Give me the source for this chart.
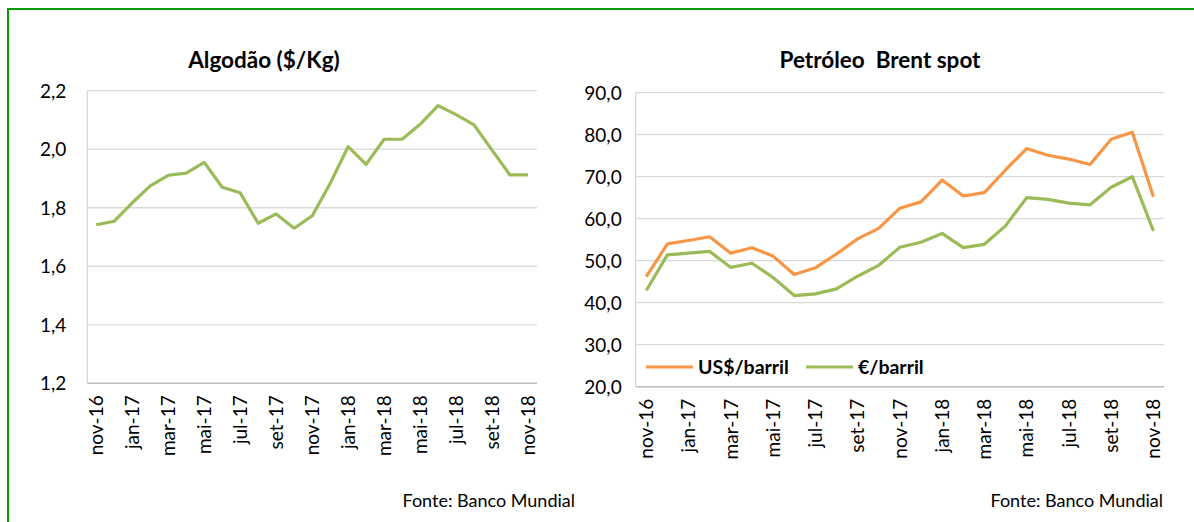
<!DOCTYPE html>
<html>
<head>
<meta charset="utf-8">
<script src="https://cdn.jsdelivr.net/npm/d3@7"></script>
<style>
  body { margin: 0; background: #fff; }
  svg { display: block; font-family: Lato, "Open Sans", sans-serif; }
  .grid line { stroke: #d9d9d9; stroke-width: 1.3; }
  .tick-label { font-size: 19px; fill: #000; }
</style>
</head>
<body>
<div id="main-content"></div>
<script>
// Months shown on both charts
const months = [
  "nov-16", "dez-16", "jan-17", "fev-17", "mar-17", "abr-17", "mai-17",
  "jun-17", "jul-17", "ago-17", "set-17", "out-17", "nov-17", "dez-17",
  "jan-18", "fev-18", "mar-18", "abr-18", "mai-18", "jun-18", "jul-18",
  "ago-18", "set-18", "out-18", "nov-18"
];
// only every other month gets a label
const monthLabels = months.filter((m, i) => i % 2 === 0);

// Cotton price ($/Kg)
const cotton = [
  1.742, 1.754, 1.817, 1.875, 1.911, 1.918, 1.955, 1.870, 1.851, 1.747,
  1.779, 1.730, 1.772, 1.883, 2.009, 1.948, 2.034, 2.034, 2.085, 2.149,
  2.118, 2.083, 1.997, 1.912, 1.912
];

// Brent spot, in dollars and euros per barrel
const brentUsd = [
  46.2, 54.0, 54.8, 55.7, 51.8, 53.1, 51.1, 46.7, 48.3, 51.6, 55.2, 57.7,
  62.5, 64.0, 69.2, 65.4, 66.2, 71.6, 76.7, 75.1, 74.2, 72.9, 78.9, 80.6, 65.2
];
const brentEur = [
  42.9, 51.4, 51.8, 52.2, 48.4, 49.4, 46.0, 41.7, 42.1, 43.3, 46.3, 48.9,
  53.2, 54.4, 56.5, 53.1, 53.9, 58.3, 65.0, 64.6, 63.7, 63.3, 67.5, 70.0, 57.1
];

const cottonTicks = [1.2, 1.4, 1.6, 1.8, 2.0, 2.2];
const brentTicks = [20, 30, 40, 50, 60, 70, 80, 90];

const legendItems = ["US$/barril", "€/barril"];

const orange = "#f79646";
const green = "#9bbb59";

const width = 1194;
const height = 522;

const svg = d3
  .select("#main-content")
  .append("svg")
  .attr("width", width)
  .attr("height", height);

// green frame (only top and left edges fall inside the picture)
svg
  .append("rect")
  .attr("x", 8)
  .attr("y", 9)
  .attr("width", width + 20)
  .attr("height", height + 20)
  .attr("fill", "none")
  .attr("stroke", "#079b07")
  .attr("stroke-width", 2);

const commaFmt = d => d3.format(".1f")(d).replace(".", ",");

function drawChart(opts) {
  const g = svg.append("g");

  const x = d3
    .scalePoint()
    .domain(months)
    .range([opts.left, opts.right])
    .padding(0.5);

  const y = d3
    .scaleLinear()
    .domain(opts.domain)
    .range([opts.bottom, opts.top]);

  // horizontal gridlines
  g.append("g")
    .attr("class", "grid")
    .selectAll("line")
    .data(opts.ticks)
    .enter()
    .append("line")
    .attr("x1", opts.left)
    .attr("x2", opts.right)
    .attr("y1", d => y(d))
    .attr("y2", d => y(d));

  // axis lines
  g.append("line")
    .attr("x1", opts.left)
    .attr("x2", opts.left)
    .attr("y1", opts.top)
    .attr("y2", opts.bottom)
    .attr("stroke", "#d9d9d9")
    .attr("stroke-width", 1.3);
  g.append("line")
    .attr("x1", opts.left)
    .attr("x2", opts.right)
    .attr("y1", opts.bottom)
    .attr("y2", opts.bottom)
    .attr("stroke", "#bfbfbf")
    .attr("stroke-width", 1.5);

  // y labels
  g.selectAll(".ylab")
    .data(opts.ticks)
    .enter()
    .append("text")
    .attr("class", "tick-label")
    .attr("x", opts.left - opts.labelGap)
    .attr("y", d => y(d))
    .attr("dy", "0.36em")
    .attr("text-anchor", "end")
    .text(commaFmt);

  // x labels, rotated
  g.selectAll(".xlab")
    .data(monthLabels)
    .enter()
    .append("text")
    .attr("class", "tick-label")
    .attr("text-anchor", "end")
    .attr("dy", "0.36em")
    .attr(
      "transform",
      d => "translate(" + x(d) + "," + (opts.bottom + 12) + ") rotate(-90)"
    )
    .text(d => d);

  // title
  g.append("text")
    .attr("x", opts.titleX)
    .attr("y", 68)
    .attr("text-anchor", "middle")
    .style("font-size", "22.5px")
    .style("font-weight", "bold")
    .attr("xml:space", "preserve")
    .text(opts.title);

  // source note
  g.append("text")
    .attr("x", opts.sourceX)
    .attr("y", 507)
    .attr("text-anchor", "end")
    .style("font-size", "18px")
    .text("Fonte: Banco Mundial");

  const line = d3
    .line()
    .x((d, i) => x(months[i]))
    .y(d => y(d));

  opts.series.forEach(s => {
    g.append("path")
      .datum(s.values)
      .attr("fill", "none")
      .attr("stroke", s.color)
      .attr("stroke-width", 3.2)
      .attr("stroke-linejoin", "round")
      .attr("d", line);
  });

  return g;
}

drawChart({
  left: 87.3,
  right: 537,
  top: 90.7,
  bottom: 383.3,
  domain: [1.2, 2.2],
  ticks: cottonTicks,
  labelGap: 21,
  title: "Algodão ($/Kg)",
  titleX: 264,
  sourceX: 575,
  series: [{ values: cotton, color: green }]
});

const brent = drawChart({
  left: 635.7,
  right: 1164,
  top: 92.7,
  bottom: 386.7,
  domain: [20, 90],
  ticks: brentTicks,
  labelGap: 14,
  title: "Petróleo  Brent spot",
  titleX: 880,
  sourceX: 1163,
  series: [
    { values: brentUsd, color: orange },
    { values: brentEur, color: green }
  ]
});

// legend inside the Brent plot
const legendX = [646, 806];
legendItems.forEach((name, i) => {
  const item = brent.append("g").attr("transform", "translate(" + legendX[i] + ",367)");
  item
    .append("line")
    .attr("x1", 0)
    .attr("x2", 47)
    .attr("stroke", i === 0 ? orange : green)
    .attr("stroke-width", 3.2);
  item
    .append("text")
    .attr("x", 52)
    .attr("dy", "0.36em")
    .style("font-size", "19.5px")
    .style("font-weight", "bold")
    .text(name);
});
</script>
</body>
</html>
